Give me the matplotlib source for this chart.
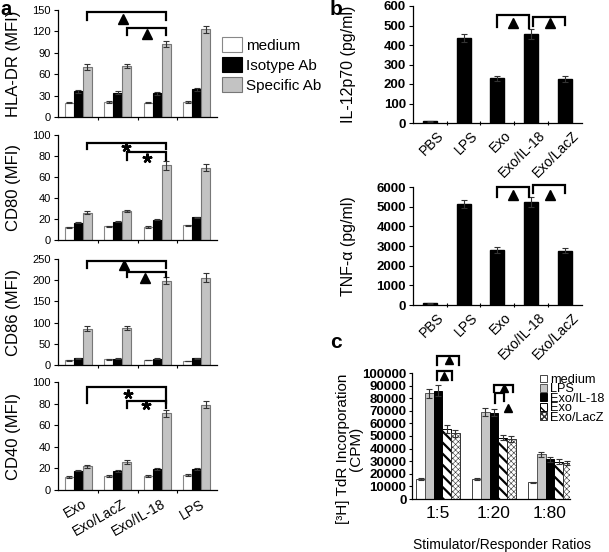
import matplotlib
matplotlib.use("Agg")
import matplotlib.pyplot as plt
import numpy as np

plt.rcParams['font.family'] = ['Liberation Sans', 'DejaVu Sans']

# ---- panel a : surface markers (MFI) ----
groups_a = ['Exo', 'Exo/LacZ', 'Exo/IL-18', 'LPS']
series_a = ['medium', 'Isotype Ab', 'Specific Ab']

hla_vals = [[20, 21, 20, 21], [36, 34, 33, 39], [70, 71, 102, 123]]
hla_err = [[1, 1, 1, 1], [2, 2, 1.5, 2], [4, 3, 4, 5]]
cd80_vals = [[12, 13, 12.5, 14], [16.5, 17.5, 19.5, 21.5], [26, 28, 71, 69]]
cd80_err = [[0.5, 0.5, 0.7, 0.7], [0.7, 0.8, 0.8, 0.8], [1.2, 1, 4, 3]]
cd86_vals = [[11, 13, 12, 10], [16, 15, 15, 16], [86, 88, 199, 206]]
cd86_err = [[0.5, 0.5, 0.5, 0.5], [1, 1, 1, 1], [5, 5, 9, 10]]
cd40_vals = [[12, 13, 13, 14], [18, 17.5, 19.5, 19.5], [22, 26, 71, 79]]
cd40_err = [[0.7, 0.7, 0.5, 0.7], [0.8, 0.7, 0.7, 0.7], [1.2, 1.8, 3.5, 3]]

# ---- panel b : cytokines ----
groups_b = ['PBS', 'LPS', 'Exo', 'Exo/IL-18', 'Exo/LacZ']
il12_vals = [8, 434, 229, 456, 226]
il12_err = [2, 20, 14, 25, 15]
tnf_vals = [80, 5150, 2790, 5230, 2760]
tnf_err = [20, 210, 150, 260, 120]

# ---- panel c : proliferation ----
ratios = ['1:5', '1:20', '1:80']
series_c = ['medium', 'LPS', 'Exo/IL-18', 'Exo', 'Exo/LacZ']
cpm_vals = [[15900, 15600, 13200],
            [83900, 69300, 35500],
            [86000, 68500, 31500],
            [55600, 48700, 29600],
            [52200, 47600, 28800]]
cpm_err = [[800, 800, 600],
           [3400, 3200, 2100],
           [4300, 2700, 2000],
           [3200, 2100, 2200],
           [2600, 2400, 1500]]

W, H = 609, 552
fig = plt.figure(figsize=(W / 100, H / 100), dpi=100)


def box(l, t, r, b):
    return fig.add_axes([l / W, 1 - b / H, (r - l) / W, (b - t) / H])


def style(ax):
    ax.spines['top'].set_visible(False)
    ax.spines['right'].set_visible(False)
    ax.spines['left'].set_linewidth(0.9)
    ax.spines['bottom'].set_linewidth(0.9)


def bracket(ax, x0, x1, top, leg0, leg1):
    ax.plot([x0, x0, x1, x1], [leg0, top, top, leg1], color='black',
            lw=1.6, clip_on=False, solid_joinstyle='miter')


def triangle(ax, x, y, ms=7):
    ax.plot(x, y, marker='^', ms=ms, color='black', clip_on=False)


def star(ax, x, y):
    ax.plot(x, y, marker=(5, 2, 0), ms=7, mew=1.7, color='black', clip_on=False)


err_kw = dict(ecolor='#333333', elinewidth=0.8, capsize=2, capthick=0.8)

# panel a
fc_a = ['white', 'black', '#c3c3c3']
ec_a = ['#888888', 'black', '#777777']
bw = 0.229
xa = np.arange(len(groups_a))

panels_a = [
    ('HLA-DR (MFI)', hla_vals, hla_err, 150, 30, (10, 117)),
    ('CD80 (MFI)', cd80_vals, cd80_err, 100, 20, (135, 240)),
    ('CD86 (MFI)', cd86_vals, cd86_err, 250, 50, (259, 365)),
    ('CD40 (MFI)', cd40_vals, cd40_err, 100, 20, (382, 490)),
]
# significance marks: (outer top, outer leg, outer sym y, outer sym x,
#                      inner top, inner leg, inner sym y, inner sym x, kind)
marks_a = [
    (147, 136, 137, 1.13, 125, 115, 117, 1.74, 'tri'),
    (92, 87, 88.5, 1.21, 84, 76, 78.5, 1.74, 'star'),
    (246, 229, 236, 1.16, 220, 208, 205, 1.69, 'tri'),
    (95, 81, 88.5, 1.26, 82, 76, 78.5, 1.72, 'star'),
]

axes_a = []
for i, (lab, vals, errs, ymax, step, (t, b)) in enumerate(panels_a):
    ax = box(58, t, 217, b)
    axes_a.append(ax)
    for k in range(3):
        ax.bar(xa + (k - 1) * bw, vals[k], bw, yerr=errs[k], color=fc_a[k],
               edgecolor=ec_a[k], linewidth=0.8, error_kw=err_kw,
               label=series_a[k])
    ax.set_xlim(-0.52, 3.52)
    ax.set_ylim(0, ymax)
    ax.set_yticks(np.arange(0, ymax + 1, step))
    ax.tick_params(axis='y', labelsize=8, length=3, width=0.8, pad=2)
    ax.set_xticks(xa + 0.1)
    ax.set_xticks([0.5, 1.5, 2.5], minor=True)
    ax.tick_params(axis='x', which='major', length=0, pad=5)
    ax.tick_params(axis='x', which='minor', length=2, width=0.8)
    if i == 3:
        ax.set_xticklabels(groups_a, rotation=30, ha='right',
                           rotation_mode='anchor', fontsize=10)
    else:
        ax.set_xticklabels([])
    ax.set_ylabel(lab, fontsize=12)
    ax.yaxis.set_label_coords(-0.235, 0.5)
    style(ax)

    ot, ol, osy, osx, it, il, isy, isx, kind = marks_a[i]
    bracket(ax, 0 + bw, 2 + bw, ot, ol, ol)
    bracket(ax, 1 + bw, 2 + bw, it, il, il)
    if kind == 'tri':
        triangle(ax, osx, osy, 6.5)
        triangle(ax, isx, isy, 6.5)
    else:
        star(ax, osx, osy)
        star(ax, isx, isy)

axes_a[0].legend(loc='upper left', bbox_to_anchor=(222 / W, 1 - 37 / H),
                 bbox_transform=fig.transFigure, frameon=False, fontsize=11,
                 handlelength=1.3, handleheight=1.18, handletextpad=0.3,
                 labelspacing=0.26, borderpad=0, borderaxespad=0)

# panel b
xb = np.arange(len(groups_b))
panels_b = [
    ('IL-12p70 (pg/ml)', il12_vals, il12_err, 600, 100, (6, 123)),
    ('TNF-\u03b1 (pg/ml)', tnf_vals, tnf_err, 6000, 1000, (187, 305)),
]
marks_b = [
    (554, 492, 487, 545, 500, 505, 513),
    (6000, 5490, 5490, 6100, 5690, 5690, 5590),
]
for i, (lab, vals, errs, ymax, step, (t, b)) in enumerate(panels_b):
    ax = box(413, t, 582, b)
    ax.bar(xb, vals, 0.415, yerr=errs, color='black', edgecolor='black',
           error_kw=dict(ecolor='#333333', elinewidth=0.8, capsize=2,
                         capthick=0.8))
    ax.set_xlim(-0.5, 4.51)
    ax.set_ylim(0, ymax)
    ax.set_yticks(np.arange(0, ymax + 1, step))
    ax.tick_params(axis='y', labelsize=9.5, length=3, width=0.8, pad=2)
    for tl in ax.get_yticklabels():
        tl.set_fontweight('bold')
    ax.set_xticks(xb + 0.2)
    ax.set_xticklabels(groups_b, rotation=45, ha='right',
                       rotation_mode='anchor', fontsize=10)
    ax.set_xticks(xb[:-1] + 0.5, minor=True)
    ax.tick_params(axis='x', which='major', length=0, pad=4)
    ax.tick_params(axis='x', which='minor', length=3, width=0.8,
                   direction='inout')
    ax.set_ylabel(lab, fontsize=11.5)
    ax.yaxis.set_label_coords(-0.34, 0.5)
    style(ax)

    t1, l1a, l1b, t2, l2a, l2b, sy = marks_b[i]
    bracket(ax, 2.0, 2.95, t1, l1a, l1b)
    bracket(ax, 3.05, 4.0, t2, l2a, l2b)
    triangle(ax, 2.45, sy, 7.5)
    triangle(ax, 3.55, sy, 7.5)

# panel c
xc = np.arange(len(ratios))
wc = 0.154
axc = box(412, 373, 570, 499)
fc_c = ['white', '#c6c6c6', 'black', 'white', 'white']
ec_c = ['#444444', '#555555', 'black', 'black', '#333333']
hatch_c = [None, None, None, '\\\\\\', 'xxxxxx']
hlw_c = [1.0, 1.0, 1.0, 1.6, 0.4]
for k in range(5):
    with plt.rc_context({'hatch.linewidth': hlw_c[k]}):
        axc.bar(xc + (k - 2) * wc, cpm_vals[k], wc, yerr=cpm_err[k],
                color=fc_c[k], edgecolor=ec_c[k], hatch=hatch_c[k],
                linewidth=0.7, error_kw=err_kw, label=series_c[k])
axc.set_xlim(-0.464, 2.357)
axc.set_ylim(0, 100000)
axc.set_yticks(np.arange(0, 100001, 10000))
axc.tick_params(axis='y', labelsize=9.5, length=2.5, width=0.8, pad=1.5)
for tl in axc.get_yticklabels():
    tl.set_fontweight('bold')
axc.set_xticks(xc)
axc.set_xticklabels(ratios, fontsize=12.5)
axc.tick_params(axis='x', length=0, pad=5)
axc.set_ylabel('[\u00b3H] TdR Incorporation\n(CPM)', fontsize=11,
               linespacing=0.95)
axc.yaxis.set_label_coords(-0.31, 0.4)
style(axc)

bracket(axc, -0.02, 0.375, 113500, 106400, 106400)
triangle(axc, 0.2, 110000, 6)
bracket(axc, -0.02, 0.25, 101600, 94500, 94500)
triangle(axc, 0.11, 98000, 6)
bracket(axc, 1.0, 1.34, 90500, 85000, 85000)
triangle(axc, 1.17, 88000, 6)
bracket(axc, 1.02, 1.18, 84000, 76000, 78000)
triangle(axc, 1.25, 72000, 6)

axc.legend(loc='upper left', bbox_to_anchor=(540 / W, 1 - 374 / H),
           bbox_transform=fig.transFigure, frameon=False, fontsize=9.2,
           handlelength=0.57, handleheight=0.57, handletextpad=0.25,
           labelspacing=-0.2, borderpad=0, borderaxespad=0)

fig.text(502 / W, 1 - 545 / H, 'Stimulator/Responder Ratios', fontsize=10,
         ha='center', va='center')

# panel letters
fig.text(0 / W, 1 - 0 / H, 'a', fontsize=14.5, fontweight='bold', va='top')
fig.text(330 / W, 1 - 0 / H, 'b', fontsize=15, fontweight='bold', va='top')
fig.text(330 / W, 1 - 333 / H, 'c', fontsize=15, fontweight='bold', va='top')

fig.savefig('out.png', dpi=100)
